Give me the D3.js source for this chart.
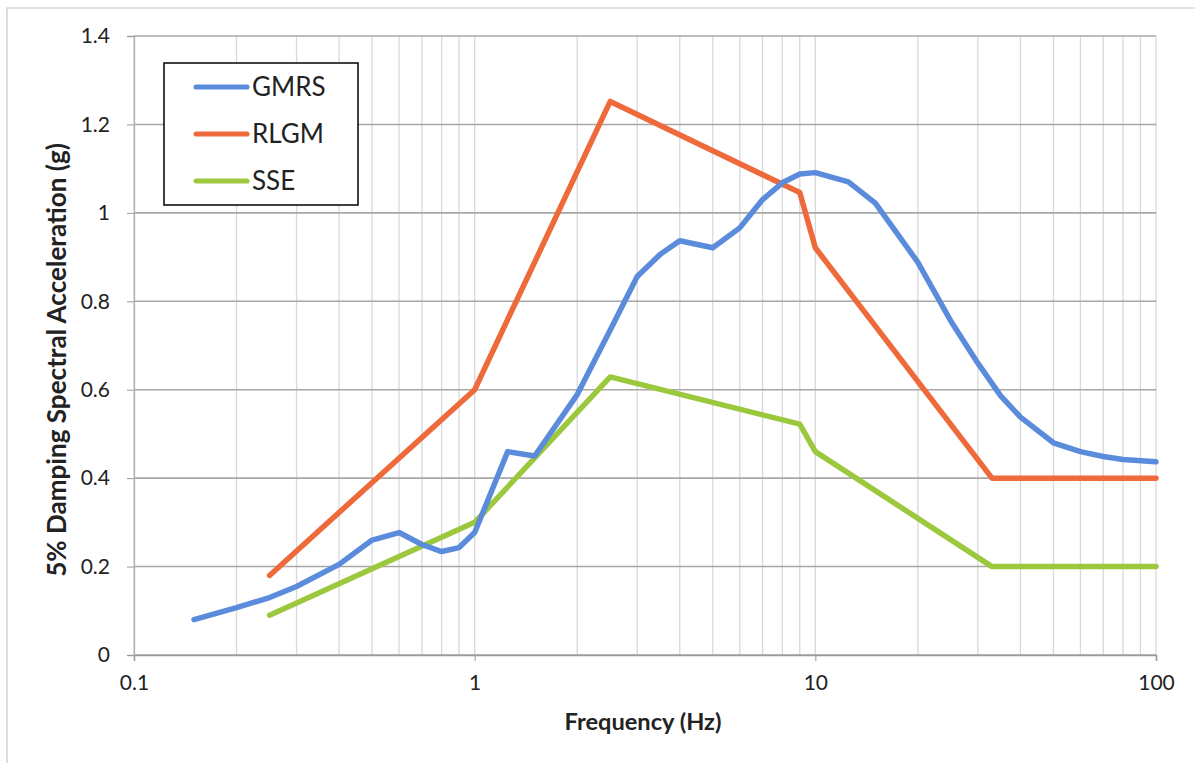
<!DOCTYPE html>
<html><head><meta charset="utf-8">
<script src="https://cdn.jsdelivr.net/npm/d3@7"></script>
<style>
html,body{margin:0;padding:0;background:#fff;}
text{font-family:Lato,"Open Sans",sans-serif;fill:#222;}
</style></head>
<body><svg id="c" width="1195" height="763"></svg>
<script>
// ---- data ----
const gmrsFreq = [0.15,0.2,0.25,0.3,0.4,0.5,0.6,0.7,0.8,0.9,1.0,1.25,1.5,2,2.5,3,3.5,4,5,6,7,8,9,10,12.5,15,20,25,30,35,40,50,60,70,80,100];
const gmrsVals = [0.08,0.107,0.13,0.155,0.205,0.26,0.277,0.25,0.234,0.243,0.277,0.46,0.45,0.589,0.735,0.856,0.906,0.937,0.921,0.966,1.03,1.068,1.088,1.091,1.07,1.022,0.888,0.755,0.66,0.586,0.538,0.48,0.46,0.449,0.442,0.437];
const rlgmFreq = [0.25,1.0,2.5,9,10,33,100];
const rlgmVals = [0.18,0.6,1.252,1.046,0.921,0.40,0.40];
const sseFreq = [0.25,1.0,2.5,9,10,33,100];
const sseVals = [0.09,0.3,0.629,0.522,0.46,0.2,0.2];
const seriesNames = ["GMRS","RLGM","SSE"];
const seriesColors = ["#5b8cdb","#ef6a3b","#9cc83e"];
const xTickValues = [0.1,1,10,100];
const xTickLabels = ["0.1","1","10","100"];
const yTickValues = [0,0.2,0.4,0.6,0.8,1.0,1.2,1.4];
const yTickLabels = ["0","0.2","0.4","0.6","0.8","1","1.2","1.4"];
const xTitle = "Frequency (Hz)";
const yTitle = "5% Damping Spectral Acceleration (g)";

// ---- layout ----
const svg = d3.select("#c");
const L = 134, R = 1156, T = 36, B = 655;
const x = d3.scaleLog().domain([0.1,100]).range([L,R]);
const y = d3.scaleLinear().domain([0,1.4]).range([B,T]);

// outer frame
svg.append("path").attr("d","M7,763 L7,8 L1195,8").attr("fill","none").attr("stroke","#c8c8c8").attr("stroke-width",1.2);

// vertical grid (minor + major)
const vgrid = [];
for (let e=-1;e<2;e++) for (let k=1;k<10;k++) vgrid.push(k*Math.pow(10,e));
vgrid.push(100);
svg.append("g").selectAll("line").data(vgrid).join("line")
  .attr("x1",d=>x(d)).attr("x2",d=>x(d)).attr("y1",T).attr("y2",B)
  .attr("stroke","#d9d9dc").attr("stroke-width",1.3);
// horizontal grid
svg.append("g").selectAll("line").data(yTickValues).join("line")
  .attr("x1",L).attr("x2",R).attr("y1",d=>y(d)).attr("y2",d=>y(d))
  .attr("stroke","#a9a6a6").attr("stroke-width",1.6);

// axes
const xAxis = d3.axisBottom(x).tickValues(xTickValues).tickFormat((d,i)=>xTickLabels[i]).tickSize(6).tickPadding(14);
const gx = svg.append("g").attr("transform",`translate(0,${B})`).call(xAxis);
gx.select(".domain").attr("stroke","#9a9a9a").attr("stroke-width",1.6);
gx.selectAll(".tick line").attr("stroke","#9a9a9a");
gx.selectAll("text").attr("font-size",21).attr("fill","#222").attr("font-family","Lato");
const yAxis = d3.axisLeft(y).tickValues(yTickValues).tickFormat((d,i)=>yTickLabels[i]).tickSize(7).tickPadding(17);
const gy = svg.append("g").attr("transform",`translate(${L},0)`).call(yAxis);
gy.select(".domain").attr("stroke","#b0b0b0").attr("stroke-width",1.3);
gy.selectAll(".tick line").attr("stroke","#9a9a9a");
gy.selectAll("text").attr("font-size",21).attr("fill","#222").attr("font-family","Lato");

// series
const line = d3.line().x(d=>x(d[0])).y(d=>y(d[1]));
const series = [
  gmrsFreq.map((f,i)=>[f,gmrsVals[i]]),
  rlgmFreq.map((f,i)=>[f,rlgmVals[i]]),
  sseFreq.map((f,i)=>[f,sseVals[i]])
];
[2,1,0].forEach(i=>{
  svg.append("path").datum(series[i]).attr("d",line)
    .attr("fill","none").attr("stroke",seriesColors[i]).attr("stroke-width",5.5)
    .attr("stroke-linejoin","round").attr("stroke-linecap","round");
});

// legend
const lg = svg.append("g");
lg.append("rect").attr("x",164).attr("y",63).attr("width",194).attr("height",142)
  .attr("fill","#fff").attr("stroke","#111").attr("stroke-width",1.6);
seriesNames.forEach((n,i)=>{
  const yy = 87 + i*47;
  lg.append("line").attr("x1",196).attr("x2",247).attr("y1",yy).attr("y2",yy)
    .attr("stroke",seriesColors[i]).attr("stroke-width",5).attr("stroke-linecap","round");
  lg.append("text").attr("x",252).attr("y",yy+9).attr("font-size",26).text(n);
});

// titles
function fit(t, w){ const l=t.node().getComputedTextLength(); const fs=+t.attr("font-size"); t.attr("font-size",fs*w/l); }
const xt = svg.append("text").attr("x",643).attr("y",730).attr("text-anchor","middle")
  .attr("font-weight","bold").attr("font-size",20).text(xTitle);
fit(xt,157);
const yt = svg.append("text").attr("transform","translate(66,360) rotate(-90)").attr("text-anchor","middle")
  .attr("font-weight","bold").attr("font-size",20).text(yTitle);
fit(yt,434);
</script></body></html>
